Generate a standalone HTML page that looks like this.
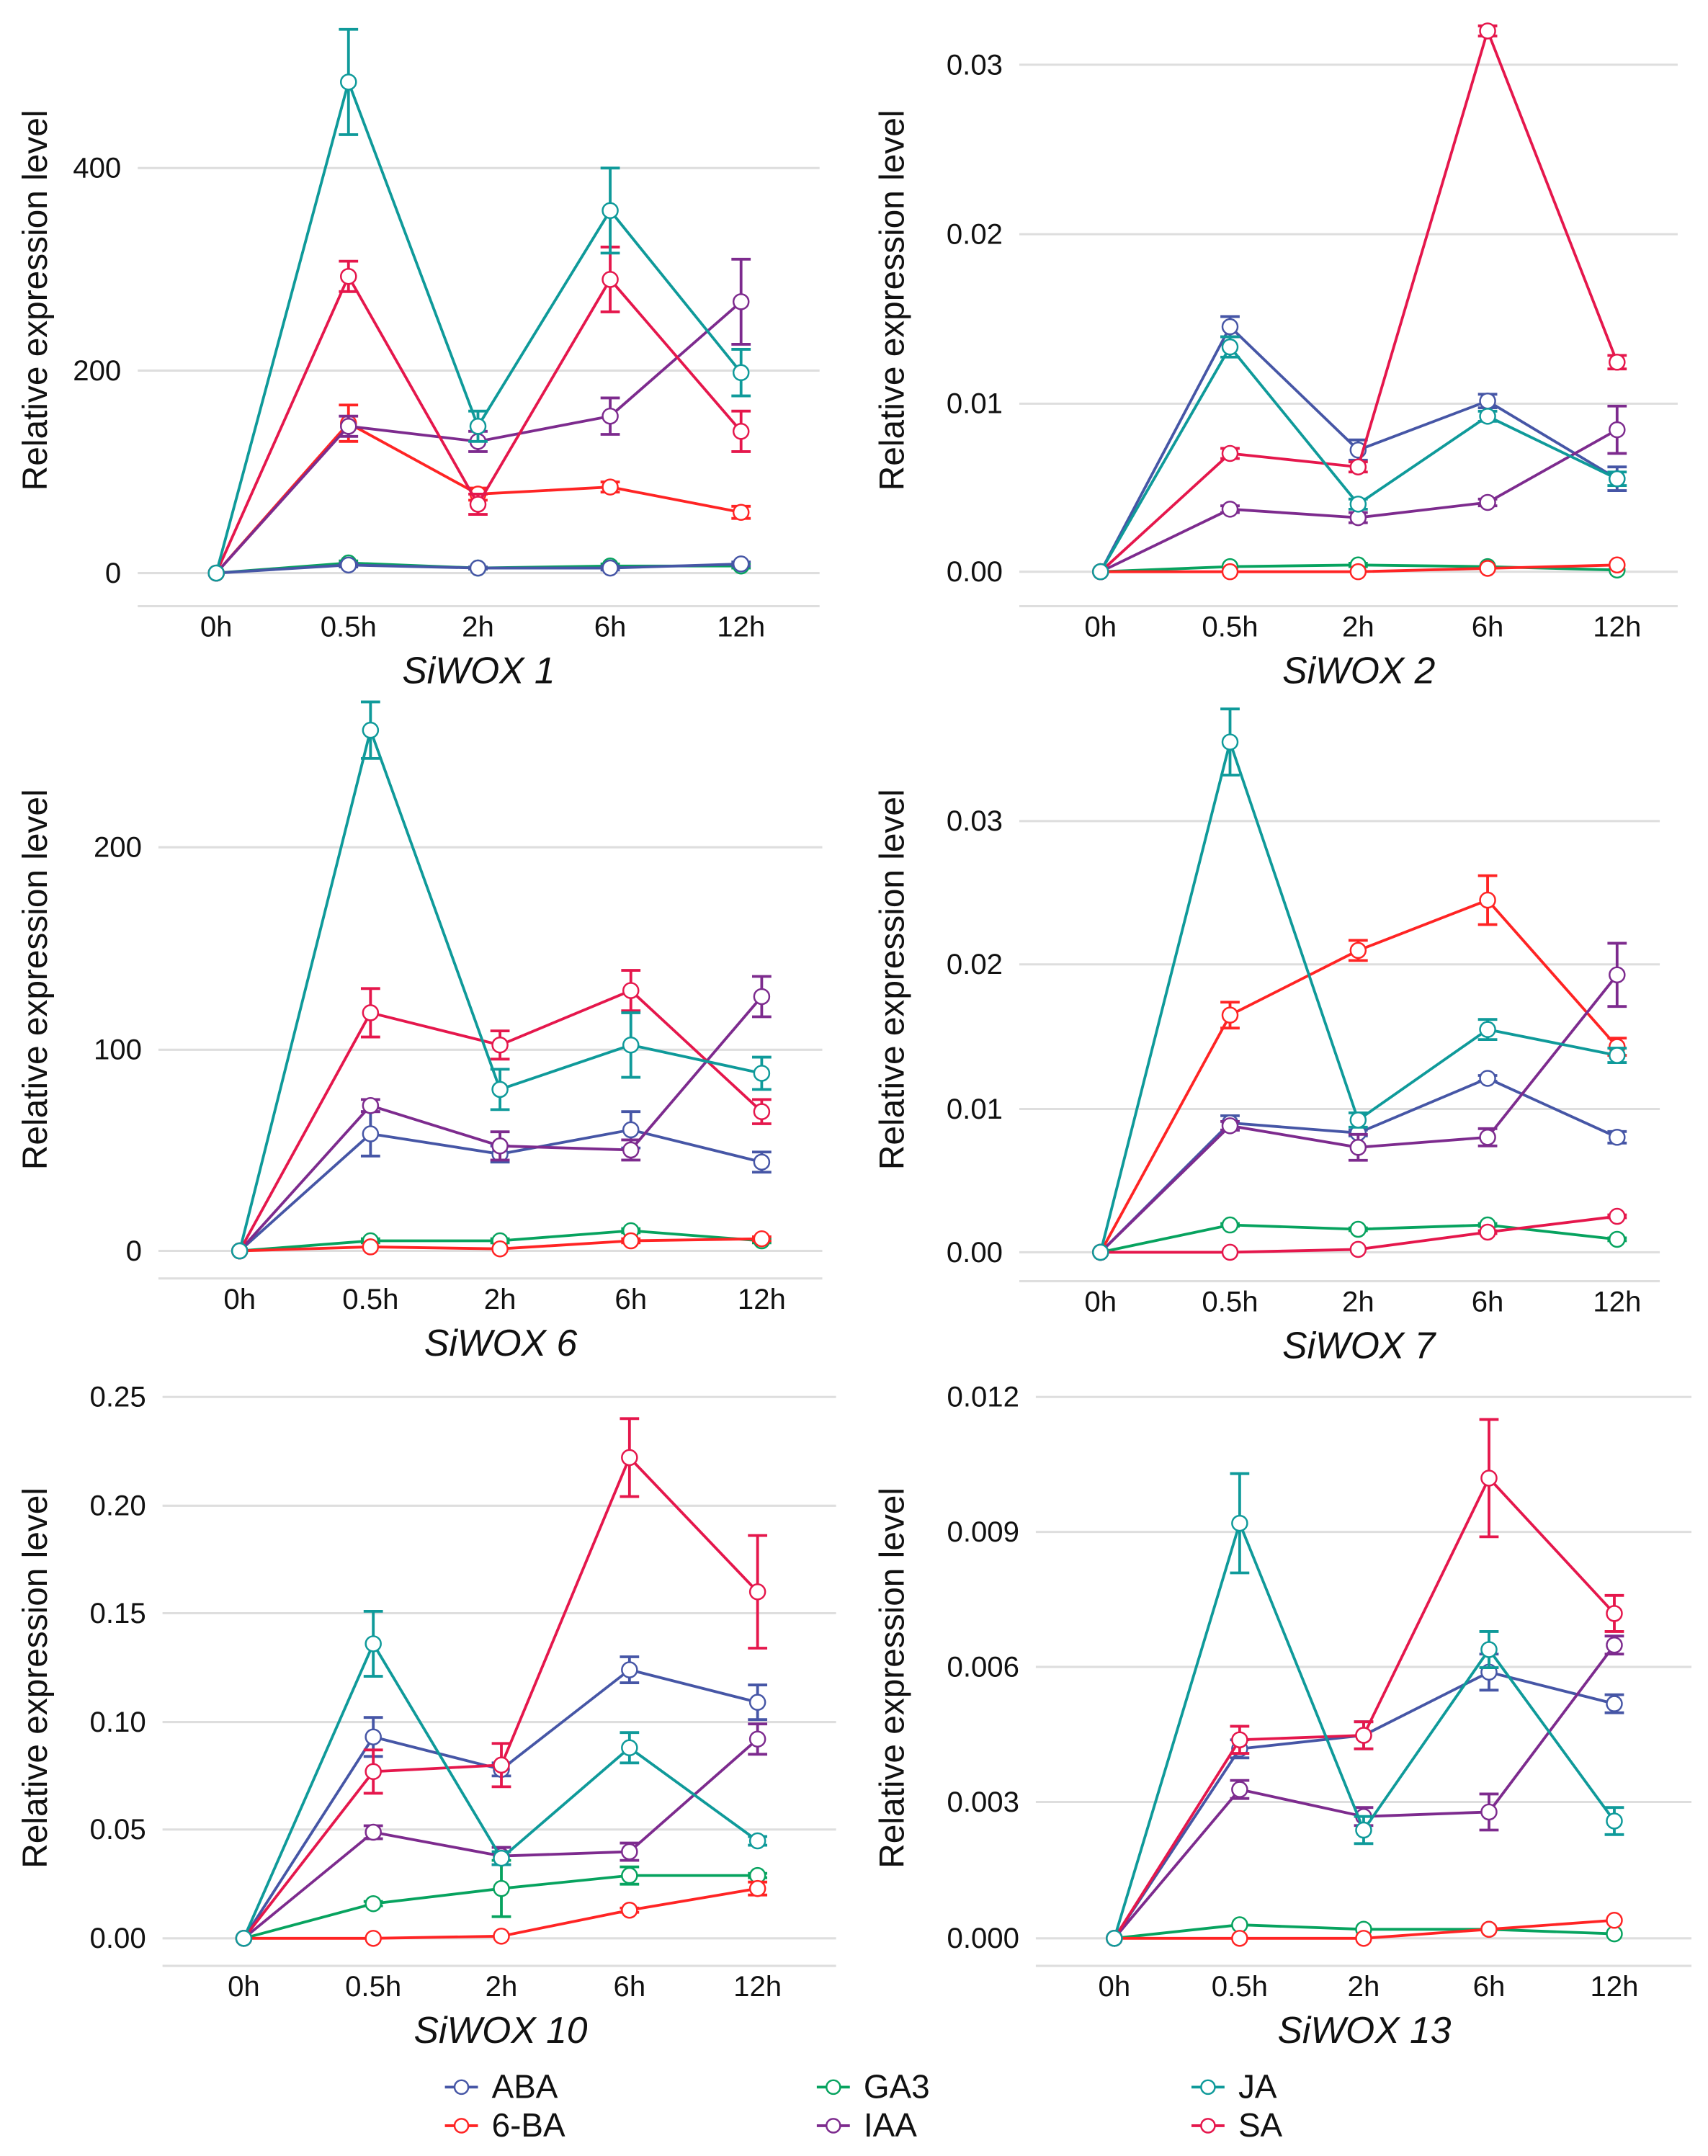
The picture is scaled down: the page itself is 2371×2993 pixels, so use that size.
<!DOCTYPE html>
<html><head><meta charset="utf-8"><style>
html,body{margin:0;padding:0;background:#fff}
svg{display:block}
text{font-family:"Liberation Sans",Arial,sans-serif}
</style></head><body>
<svg id="s" width="2371" height="2993" viewBox="0 0 1240 1565" preserveAspectRatio="none" xmlns="http://www.w3.org/2000/svg"></svg>
<script>
const C={ABA:"#4656a6",GA3:"#07a35f",JA:"#0f9a9a","6-BA":"#ff2424",IAA:"#7d2b8e",SA:"#e5174c"};
const panels=[
{title:"SiWOX 1",ylx:25,cy:218,tickR:88,gx0:100,gx1:595,axisY:440,xs:[157,253,347,443,538],ticks:[[0,416],[200,269],[400,122]],lab:["0","200","400"],
 s:{JA:[[0,0],[485,52],[145,15],[358,42],[198,23]],SA:[[0,0],[293,15],[68,10],[290,32],[140,20]],IAA:[[0,0],[145,10],[130,10],[155,18],[268,42]],"6-BA":[[0,0],[148,18],[78,6],[85,5],[60,6]],ABA:[[0,0],[8,2],[5,1],[5,2],[9,2]],GA3:[[0,0],[10,2],[5,1],[7,2],[7,2]]}},
{title:"SiWOX 2",ylx:647,cy:218,tickR:728,gx0:740,gx1:1218,axisY:440,xs:[799,893,986,1080,1174],ticks:[[0,415],[.01,293],[.02,170],[.03,47]],lab:["0.00","0.01","0.02","0.03"],
 s:{SA:[[0,0],[.007,.0003],[.0062,.0003],[.032,.0003],[.0124,.0004]],ABA:[[0,0],[.0145,.0006],[.0072,.0006],[.0101,.0004],[.0055,.0007]],JA:[[0,0],[.0133,.0006],[.0040,.0003],[.0092,.0003],[.0055,.0004]],IAA:[[0,0],[.0037,.0002],[.0032,.0003],[.0041,.0002],[.0084,.0014]],GA3:[[0,0],[.0003,0],[.0004,.0001],[.0003,0],[.0001,0]],"6-BA":[[0,0],[0,0],[0,0],[.0002,0],[.0004,0]]}},
{title:"SiWOX 6",ylx:25,cy:711,tickR:103,gx0:115,gx1:597,axisY:928,xs:[174,269,363,458,553],ticks:[[0,908],[100,762],[200,615]],lab:["0","100","200"],
 s:{JA:[[0,0],[258,14],[80,10],[102,16],[88,8]],SA:[[0,0],[118,12],[102,7],[129,10],[69,6]],IAA:[[0,0],[72,3],[52,7],[50,5],[126,10]],ABA:[[0,0],[58,11],[48,4],[60,9],[44,5]],GA3:[[0,0],[5,1],[5,1],[10,1],[5,1]],"6-BA":[[0,0],[2,0],[1,0],[5,1],[6,1]]}},
{title:"SiWOX 7",ylx:647,cy:711,tickR:728,gx0:740,gx1:1205,axisY:930,xs:[799,893,986,1080,1174],ticks:[[0,909],[.01,805],[.02,700],[.03,596]],lab:["0.00","0.01","0.02","0.03"],
 s:{JA:[[0,0],[.0355,.0023],[.0092,.0005],[.0155,.0007],[.0137,.0005]],"6-BA":[[0,0],[.0165,.0009],[.021,.0007],[.0245,.0017],[.0143,.0006]],IAA:[[0,0],[.0088,.0003],[.0073,.0009],[.0080,.0006],[.0193,.0022]],ABA:[[0,0],[.0090,.0005],[.0083,.0002],[.0121,.0002],[.0080,.0004]],GA3:[[0,0],[.0019,.0001],[.0016,.0001],[.0019,.0001],[.0009,.0001]],SA:[[0,0],[0,0],[.0002,0],[.0014,.0001],[.0025,.0001]]}},
{title:"SiWOX 10",ylx:25,cy:1218,tickR:106,gx0:118,gx1:607,axisY:1427,xs:[177,271,364,457,550],ticks:[[0,1407],[.05,1328],[.1,1250],[.15,1171],[.2,1093],[.25,1014]],lab:["0.00","0.05","0.10","0.15","0.20","0.25"],
 s:{SA:[[0,0],[.077,.01],[.080,.01],[.222,.018],[.160,.026]],ABA:[[0,0],[.093,.009],[.078,.003],[.124,.006],[.109,.008]],JA:[[0,0],[.136,.015],[.037,.003],[.088,.007],[.045,.002]],IAA:[[0,0],[.049,.003],[.038,.004],[.040,.004],[.092,.007]],GA3:[[0,0],[.016,.001],[.023,.013],[.029,.004],[.029,.001]],"6-BA":[[0,0],[0,0],[.001,0],[.013,.001],[.023,.003]]}},
{title:"SiWOX 13",ylx:647,cy:1218,tickR:740,gx0:752,gx1:1228,axisY:1427,xs:[809,900,990,1081,1172],ticks:[[0,1407],[.003,1308],[.006,1210],[.009,1112],[.012,1014]],lab:["0.000","0.003","0.006","0.009","0.012"],
 s:{JA:[[0,0],[.0092,.0011],[.0024,.0003],[.0064,.0004],[.0026,.0003]],SA:[[0,0],[.0044,.0003],[.0045,.0003],[.0102,.0013],[.0072,.0004]],ABA:[[0,0],[.0042,.0002],[.0045,.0003],[.0059,.0004],[.0052,.0002]],IAA:[[0,0],[.0033,.0002],[.0027,.0002],[.0028,.0004],[.0065,.0002]],GA3:[[0,0],[.0003,0],[.0002,0],[.0002,0],[.0001,0]],"6-BA":[[0,0],[0,0],[0,0],[.0002,0],[.0004,0]]}}
];
let h="";
for(const p of panels){
 const [v0,y0]=p.ticks[0],[v1,y1]=p.ticks[p.ticks.length-1];
 const Y=v=>y0+(v-v0)*(y1-y0)/(v1-v0);
 p.ticks.forEach((t,i)=>{h+=`<line x1="${p.gx0}" x2="${p.gx1}" y1="${t[1]}" y2="${t[1]}" stroke="#dedede" stroke-width="1.6"/>`;
  h+=`<text x="${p.tickR}" y="${t[1]+7}" font-size="21" text-anchor="end" fill="#111">${p.lab[i]}</text>`;});
 h+=`<line x1="${p.gx0}" x2="${p.gx1}" y1="${p.axisY}" y2="${p.axisY}" stroke="#dedede" stroke-width="1.6"/>`;
 const lx=["0h","0.5h","2h","6h","12h"];
 p.xs.forEach((x,i)=>h+=`<text x="${x}" y="${p.axisY+22}" font-size="21" text-anchor="middle" fill="#111">${lx[i]}</text>`);
 h+=`<text x="${(p.xs[0]+p.xs[4])/2}" y="${p.axisY+56}" font-size="27" font-style="italic" text-anchor="middle" fill="#111">${p.title}</text>`;
 h+=`<text transform="translate(${p.ylx+9},${p.cy}) rotate(-90)" font-size="25" text-anchor="middle" fill="#111">Relative expression level</text>`;
 const order=["GA3","ABA","6-BA","IAA","SA","JA"];
 for(const k of order){const d=p.s[k];if(!d)continue;const c=C[k];
  const pts=d.map((q,i)=>[p.xs[i],Y(q[0])]);
  h+=`<polyline points="${pts.map(q=>q.join(",")).join(" ")}" fill="none" stroke="${c}" stroke-width="2"/>`;
  d.forEach((q,i)=>{if(q[1]>0){const a=Y(q[0]+q[1]),b=Y(q[0]-q[1]),x=p.xs[i];
   h+=`<path d="M${x},${a}V${b}M${x-7},${a}H${x+7}M${x-7},${b}H${x+7}" stroke="${c}" stroke-width="2" fill="none"/>`;}});
  pts.forEach(q=>h+=`<circle cx="${q[0]}" cy="${q[1]}" r="5.5" fill="#fff" stroke="${c}" stroke-width="1.3"/>`);
 }
}
const leg=[["ABA",335,1515],["6-BA",335,1543],["GA3",605,1515],["IAA",605,1543],["JA",877,1515],["SA",877,1543]];
for(const [k,x,y] of leg){const c=C[k];
 h+=`<line x1="${x-12}" x2="${x+12}" y1="${y}" y2="${y}" stroke="${c}" stroke-width="2"/><circle cx="${x}" cy="${y}" r="5" fill="#fff" stroke="${c}" stroke-width="1.3"/>`;
 h+=`<text x="${x+22}" y="${y+8}" font-size="24" fill="#111">${k}</text>`;}
document.getElementById("s").innerHTML=h;
</script>
</body></html>
